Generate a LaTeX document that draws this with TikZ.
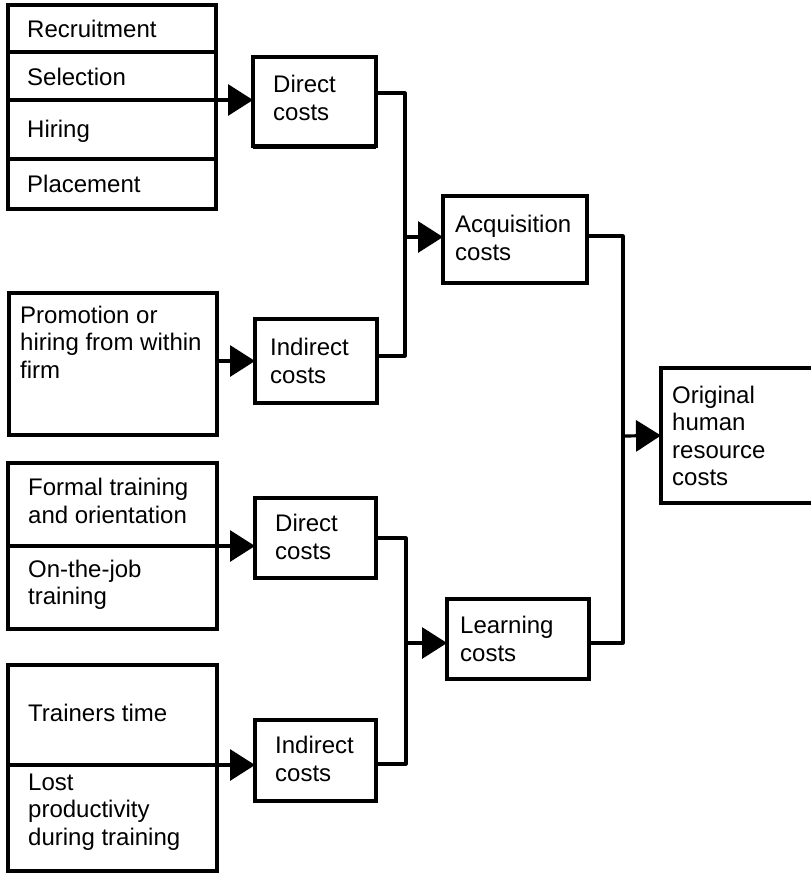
\documentclass[tikz,border=0pt]{standalone}
\usepackage{fontspec}
\setmainfont{Liberation Sans}
\usetikzlibrary{arrows.meta}

\begin{document}
\begin{tikzpicture}[x=1pt, y=-1pt,
  box/.style={draw, line width=3.2pt, inner sep=0pt, outer sep=0pt},
  txt/.style={anchor=west, align=left, inner sep=0pt,
              font=\fontsize{24}{27.5}\selectfont},
  wire/.style={line width=3.2pt, line join=round},
  arr/.style={wire, -{Triangle[length=25pt, width=31pt]}}
]
\useasboundingbox (0,0) rectangle (811,873);

% box helper: name, x1, y1, x2, y2
\newcommand\hrbox[5]{%
  \node[box, minimum width={#4-#2}, minimum height={#5-#3}]
    (#1) at ({(#2+#4)/2},{(#3+#5)/2}) {};}

% ---- acquisition branch ----
\hrbox{rec}{8}{5}{216}{52}
\hrbox{sel}{8}{52}{216}{100}
\hrbox{hir}{8}{100}{216}{159}
\hrbox{pla}{8}{159}{216}{209}
\node[txt] (trec) at (27,29)  {Recruitment};
\node[txt] (tsel) at (27,77)  {Selection};
\node[txt] (thir) at (27,131) {Hiring};
\node[txt] (tpla) at (27,184) {Placement};

\hrbox{dc1}{253}{57}{376}{146}
\draw[line width=5.5pt] (253,146.5) -- (376,146.5);
\node[txt] (tdc1) at (273,98) {Direct\\costs};

\hrbox{prom}{9}{293}{217}{435}
\node[txt] (tprom) at (20,342) {Promotion or\\hiring from within\\firm};

\hrbox{ic1}{255}{319}{377}{403}
\node[txt] (tic1) at (270,361) {Indirect\\costs};

\hrbox{acq}{443}{196}{587}{283}
\node[txt] (tacq) at (455,238) {Acquisition\\costs};

% ---- learning branch ----
\hrbox{ft}{8}{463}{217}{546}
\hrbox{oj}{8}{546}{217}{629}
\node[txt] (tft) at (28,501) {Formal training\\and orientation};
\node[txt] (toj) at (28,585) {On-the-job\\training};

\hrbox{dc2}{255}{498}{376}{578}
\node[txt] (tdc2) at (275,537) {Direct\\costs};

\hrbox{tt}{8}{665}{217}{765}
\hrbox{lp}{8}{765}{217}{871}
\node[txt] (ttt) at (28,713) {Trainers time};
\node[txt] (tlp) at (28,812) {Lost\\productivity\\during training};

\hrbox{ic2}{255}{720}{376}{801}
\node[txt] (tic2) at (275,759) {Indirect\\costs};

\hrbox{lc}{447}{599}{589}{679}
\node[txt] (tlc) at (460,639) {Learning\\costs};

% ---- result ----
\hrbox{orig}{661}{368}{815}{503}
\node[txt] (torig) at (672,436) {Original\\human\\resource\\costs};

% ---- junction points ----
\coordinate (ja) at (405,237);
\coordinate (jl) at (406,643);
\coordinate (jo) at (623,436);

% ---- connectors ----
\draw[arr] (sel.south east) -- (sel.south east -| dc1.west);
\draw[arr] (prom.east |- ic1.west) -- (ic1.west);
\draw[wire] ([yshift=8.5pt]dc1.east) -| (ja) |- ([yshift=5pt]ic1.east);
\draw[arr] (ja) -- (ja -| acq.west);

\draw[arr] (ft.south east) -- (ft.south east -| dc2.west);
\draw[arr] (tt.south east) -- (tt.south east -| ic2.west);
\draw[wire] (dc2.east) -| (jl) |- ([yshift=-3.5pt]ic2.east);
\draw[arr] (jl) -- (jl -| lc.west);

\draw[wire] ([yshift=3.5pt]acq.east) -| (jo) |- ([yshift=-4pt]lc.east);
\draw[arr] (jo) -- (orig.west);
\end{tikzpicture}
\end{document}
